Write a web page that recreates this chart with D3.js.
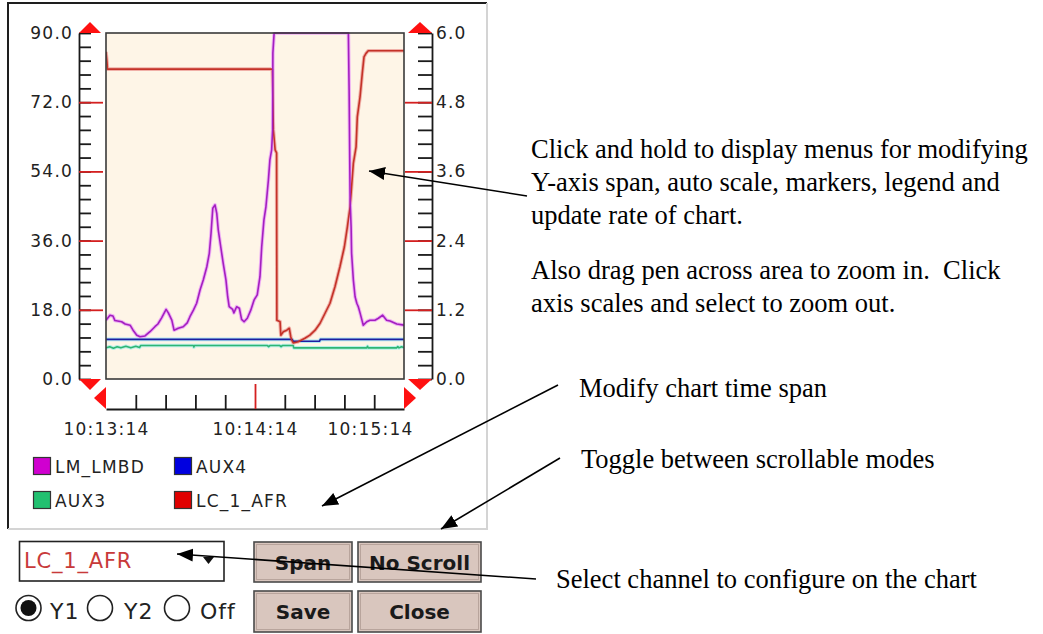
<!DOCTYPE html>
<html><head><meta charset="utf-8">
<script src="https://cdn.jsdelivr.net/npm/d3@7"></script>
<style>
body{margin:0;background:#fff}
svg{display:block}
.ui{font-family:"DejaVu Sans",Verdana,sans-serif}
.note{font-family:"Liberation Serif","Times New Roman",serif;font-size:26.5px;fill:#000;white-space:pre}
</style>
</head><body>
<svg id="c" width="1043" height="634"></svg>
<script>
// ---------- data ----------
const startClock = [10,13,14];
const spanSeconds = 120;
const xTickSeconds = [12,24,36,48,60,72,84,96,108];
const xRedTickSeconds = [60];
const xLabelSeconds = [0,60,120];
const y1Domain = [0,90];
const y2Domain = [0,6];
const y1LabelTicks = [0,18,36,54,72,90];
const y1RedTicks = [18,36,54,72];
const y1MinorTicks = [0,3.6,7.2,10.8,14.4,18,21.6,25.2,28.8,32.4,36,39.6,43.2,46.8,50.4,54,57.6,61.2,64.8,68.4,72,75.6,79.2,82.8,86.4,90];
const y2LabelTicks = [0,1.2,2.4,3.6,4.8,6];
const y2RedTicks = [1.2,2.4,3.6,4.8];
const y2MinorTicks = [0,0.24,0.48,0.72,0.96,1.2,1.44,1.68,1.92,2.16,2.4,2.64,2.88,3.12,3.36,3.6,3.84,4.08,4.32,4.56,4.8,5.04,5.28,5.52,5.76,6];

const seriesNames = ["LM_LMBD","AUX4","AUX3","LC_1_AFR"];

const lmT = [0,1.6,2.8,3.6,6.3,7.7,9.7,10.9,12.4,13.7,15.7,17.7,19.7,20.9,22.4,24.2,25.1,26.5,27.4,29.1,31.1,32.7,33.8,35.2,36.5,37.9,39.2,40.6,41.6,42.3,43.0,43.9,44.6,45.2,46.2,47.2,48.3,49.0,49.6,51.0,51.5,52.6,53.7,54.6,55.6,56.9,58.3,59.6,60.9,62.0,62.7,63.6,64.4,65.4,66.0,66.7,67.1,67.2,67.7,97.6,97.9,98.3,98.7,98.9,99.6,100.3,101.0,101.6,102.3,103.6,105.0,106.3,108.3,109.7,111.4,113.0,114.4,117.1,120];
const lmV = [15.3,16.6,16.4,15.2,14.9,14.3,14.0,12.7,11.4,11.0,11.2,12.3,13.6,14.3,15.9,18.1,17.2,15.3,12.7,13.2,13.6,14.6,16.2,17.9,19.7,23.2,25.8,29.2,32.7,37.9,44.4,45.3,43.1,38.8,34.4,30.1,25.8,21.4,18.8,18.1,17.2,18.8,18.4,15.5,14.9,15.8,17.9,20.5,21.9,26.6,34.4,41.4,44.8,51.8,57.0,59.6,64.8,84.8,90,90,75.2,46.6,39.6,32.7,25.8,21.4,19.7,18.8,17.2,14.0,14.9,15.3,15.3,15.8,16.6,15.3,15.1,14.3,14.0];

const auxT4 = [0,75.0,75.4,86.0,86.3,120];
const auxV4 = [10.3,10.3,9.8,9.8,10.3,10.3];

const auxT3 = [0,1.5,3,4.5,6,8,10,12,13.5,14,35.2,35.4,35.6,65,65.5,66,70,70.5,71,75.4,75.6,105,105.3,105.6,117,117.5,118,119,120];
const auxV3 = [8.1,8.4,8.0,8.4,8.1,8.5,8.1,8.5,8.2,8.7,8.7,8.3,8.7,8.7,8.4,8.7,8.7,8.4,8.7,8.7,8.1,8.1,8.5,8.1,8.1,8.4,8.1,8.4,8.2];

const afrT = [0,0.4,0.6,67.0,67.4,68.1,68.7,68.8,70.1,70.4,71.4,72.8,73.8,74.4,74.8,75.4,77.4,80.1,82.1,84.2,86.2,88.2,90.2,92.2,94.2,96.0,97.2,98.3,98.9,99.6,100.7,101.2,102.3,103.2,103.9,104.7,105.6,120];
const afrV = [85.1,82.5,80.6,80.6,64.8,59.6,58.8,15.3,14.9,11.4,12.3,12.7,13.2,11.0,10.1,9.4,9.7,10.6,11.4,12.7,14.5,17.1,19.7,24.0,29.2,34.4,39.6,44.8,50.0,56.1,60.4,68.2,73.4,79.5,83.8,84.7,85.4,85.4];

const notesTop = ["Click and hold to display menus for modifying","Y-axis span, auto scale, markers, legend and","update rate of chart.","Also drag pen across area to zoom in.  Click","axis scales and select to zoom out."];
const noteSpan = "Modify chart time span";
const noteScroll = "Toggle between scrollable modes";
const noteChannel = "Select channel to configure on the chart";
const buttonLabels = ["Span","No Scroll","Save","Close"];
const radioLabels = ["Y1","Y2","Off"];
const selectedChannel = "LC_1_AFR";

// ---------- setup ----------
const svg = d3.select("#c");
const base = new Date(2000,0,1,startClock[0],startClock[1],startClock[2]);
const toDate = s => new Date(base.getTime()+s*1000);
const fmt = d3.timeFormat("%H:%M:%S");

const x = d3.scaleTime().domain([toDate(0),toDate(spanSeconds)]).range([106,404]);
const y1 = d3.scaleLinear().domain(y1Domain).range([379,33]);
const y2 = d3.scaleLinear().domain(y2Domain).range([379,33]);

// panel
svg.append("rect").attr("x",8).attr("y",3).attr("width",479).attr("height",526).attr("fill","#fff");
svg.append("path").attr("d","M8,529 L8,3 L487,3").attr("fill","none").attr("stroke","#1e1e1e").attr("stroke-width",2);
svg.append("path").attr("d","M8,529 L487,529 L487,3").attr("fill","none").attr("stroke","#d4d4d4").attr("stroke-width",2);

const [px0,px1] = x.range();
const [py0,py1] = [y1.range()[1], y1.range()[0]];

// plot background
svg.append("defs").append("clipPath").attr("id","clip")
  .append("rect").attr("x",px0).attr("y",py0-1).attr("width",px1-px0).attr("height",py1-py0+1);
svg.append("rect").attr("x",px0).attr("y",py0).attr("width",px1-px0).attr("height",py1-py0)
  .attr("fill","#fef5e7");

// series
const lineGen = d3.line().x(d=>x(toDate(d[0]))).y(d=>y1(d[1]));
const zip = (t,v)=>t.map((tt,i)=>[tt,v[i]]);
const seriesDraw = [
  {t:auxT3,v:auxV3,c:"#2fb574",h:"#b8f0e6"},
  {t:auxT4,v:auxV4,c:"#1e1ea0",h:"#b0e8f4"},
  {t:afrT,v:afrV,c:"#c43228",h:"#f0b0a8"},
  {t:lmT,v:lmV,c:"#a41fbf",h:"#eeb0f4"}
];
const gS = svg.append("g").attr("clip-path","url(#clip)");
seriesDraw.forEach(s=>{
  const d = lineGen(zip(s.t,s.v));
  gS.append("path").attr("d",d).attr("fill","none").attr("stroke",s.h).attr("stroke-width",3.6).attr("stroke-linejoin","round");
});
seriesDraw.forEach(s=>{
  const d = lineGen(zip(s.t,s.v));
  gS.append("path").attr("d",d).attr("fill","none").attr("stroke",s.c).attr("stroke-width",1.6).attr("stroke-linejoin","round");
});

// plot border
svg.append("rect").attr("x",px0).attr("y",py0).attr("width",px1-px0).attr("height",py1-py0)
  .attr("fill","none").attr("stroke","#3a3a3a").attr("stroke-width",1.6);

const uiFont = g => g.attr("font-family","DejaVu Sans, Verdana, sans-serif").attr("font-size",17).attr("letter-spacing",1.2).attr("fill","#222");

// left axis
const lx = 79;
const gl = svg.append("g").attr("transform",`translate(${lx},0)`);
gl.call(d3.axisLeft(y1).tickValues(y1MinorTicks).tickSize(-12).tickSizeOuter(0).tickFormat(""));
gl.selectAll("line,path").attr("stroke","#1a1a1a").attr("stroke-width",1.8);
const glr = svg.append("g").attr("transform",`translate(${lx},0)`);
glr.call(d3.axisLeft(y1).tickValues(y1RedTicks).tickSize(-24).tickFormat(""));
glr.select(".domain").remove();
glr.selectAll("line").attr("stroke","#d42020").attr("stroke-width",1.8);
const gll = svg.append("g").attr("transform",`translate(${lx},0)`);
gll.call(d3.axisLeft(y1).tickValues(y1LabelTicks).tickSize(0).tickPadding(6).tickFormat(d3.format(".1f")));
gll.select(".domain").remove();
gll.selectAll("text").call(uiFont);

// right axis
const rx = 432;
const gr = svg.append("g").attr("transform",`translate(${rx},0)`);
gr.call(d3.axisRight(y2).tickValues(y2MinorTicks).tickSize(-14).tickSizeOuter(0).tickFormat(""));
gr.selectAll("line,path").attr("stroke","#1a1a1a").attr("stroke-width",1.8);
const grr = svg.append("g").attr("transform",`translate(${rx},0)`);
grr.call(d3.axisRight(y2).tickValues(y2RedTicks).tickSize(-27).tickFormat(""));
grr.select(".domain").remove();
grr.selectAll("line").attr("stroke","#d42020").attr("stroke-width",1.8);
const grl = svg.append("g").attr("transform",`translate(${rx},0)`);
grl.call(d3.axisRight(y2).tickValues(y2LabelTicks).tickSize(0).tickPadding(4).tickFormat(d3.format(".1f")));
grl.select(".domain").remove();
grl.selectAll("text").call(uiFont);

// x axis
const xy = 409;
const gx = svg.append("g").attr("transform",`translate(0,${xy})`);
gx.call(d3.axisTop(x).tickValues(xTickSeconds.map(toDate)).tickSize(14).tickSizeOuter(0).tickFormat(""));
gx.selectAll("line,path").attr("stroke","#1a1a1a").attr("stroke-width",1.8);
gx.selectAll(".tick").filter(d=>xRedTickSeconds.includes((d-base)/1000)).select("line")
  .attr("stroke","#d42020").attr("y2",-25);
const gxl = svg.append("g").attr("transform",`translate(0,${xy})`);
gxl.call(d3.axisBottom(x).tickValues(xLabelSeconds.map(toDate)).tickSize(0).tickPadding(14).tickFormat(fmt));
gxl.select(".domain").remove();
gxl.selectAll("text").call(uiFont);
gxl.selectAll(".tick").filter((d,i,n)=>i===n.length-1).select("text").attr("text-anchor","end").attr("dx",9);

// red triangles
const red = "#ff1010";
const tri = pts => svg.append("path").attr("d","M"+pts.map(p=>p.join(",")).join("L")+"Z").attr("fill",red);
tri([[lx,py0],[lx+22,py0],[lx+11,py0-11]]);
tri([[lx,py1],[lx+22,py1],[lx+11,py1+11]]);
tri([[rx-24,py0],[rx,py0],[rx-12,py0-11]]);
tri([[rx-24,py1],[rx,py1],[rx-12,py1+11]]);
tri([[px0,xy-22],[px0,xy],[px0-12,xy-11]]);
tri([[px1,xy-22],[px1,xy],[px1+12,xy-11]]);

// legend
const legendColors = ["#d000d0","#0000e0","#22c070","#e00000"];
const legendPos = [[33,457],[174,457],[33,491],[174,491]];
seriesNames.forEach((n,i)=>{
  const [lx0,ly0] = legendPos[i];
  svg.append("rect").attr("x",lx0+0.5).attr("y",ly0+0.5).attr("width",17).attr("height",17)
    .attr("fill",legendColors[i]).attr("stroke","#333").attr("stroke-width",1.2);
  svg.append("text").attr("x",lx0+22).attr("y",ly0+16).text(n).call(uiFont);
});

// dropdown
svg.append("rect").attr("x",19.5).attr("y",541.5).attr("width",204.5).attr("height",39.5)
  .attr("fill","#fff").attr("stroke","#222").attr("stroke-width",1.6);
svg.append("text").attr("x",24).attr("y",568).text(selectedChannel)
  .attr("font-family","DejaVu Sans, Verdana, sans-serif").attr("font-size",21).attr("letter-spacing",0.8).attr("fill","#c83a3a");
svg.append("path").attr("d","M203,557L214,557L208.5,564Z").attr("fill","#111");

// radios
const radioX = [28.5,100,177];
const radioTextX = [50,124,200];
radioLabels.forEach((l,i)=>{
  svg.append("circle").attr("cx",radioX[i]).attr("cy",608).attr("r",12.5).attr("fill","#fff").attr("stroke","#222").attr("stroke-width",1.6);
  if(i===0) svg.append("circle").attr("cx",radioX[i]).attr("cy",608).attr("r",8).attr("fill","#111");
  svg.append("text").attr("x",radioTextX[i]).attr("y",619).text(l)
    .attr("font-family","DejaVu Sans, Verdana, sans-serif").attr("font-size",22).attr("letter-spacing",1).attr("fill","#222");
});

// buttons
const btnBoxes = [[254,542,98,40],[358,542,123,40],[254,591,98,41],[358,591,123,41]];
buttonLabels.forEach((b,i)=>{
  const [bx,by,bw,bh] = btnBoxes[i];
  svg.append("rect").attr("x",bx).attr("y",by).attr("width",bw).attr("height",bh)
    .attr("fill","#d9c6be").attr("stroke","#4a4a4a").attr("stroke-width",1.6);
  svg.append("rect").attr("x",bx+2.5).attr("y",by+2.5).attr("width",bw-5).attr("height",bh-5)
    .attr("fill","none").attr("stroke","#b8a49c").attr("stroke-width",1);
  svg.append("text").attr("x",bx+bw/2).attr("y",by+28).attr("text-anchor","middle").text(b)
    .attr("font-family","DejaVu Sans, Verdana, sans-serif").attr("font-weight","bold").attr("font-size",20).attr("fill","#1a1a1a");
});

// annotation text
const noteBase = [158,191,224,279,312];
notesTop.forEach((t,i)=>{
  svg.append("text").attr("class","note").attr("x",531).attr("y",noteBase[i]).text(t);
});
svg.append("text").attr("class","note").attr("x",579).attr("y",397).text(noteSpan);
svg.append("text").attr("class","note").attr("x",581).attr("y",468).text(noteScroll);
svg.append("text").attr("class","note").attr("x",556).attr("y",588).text(noteChannel);

// arrows
svg.select("defs").append("marker").attr("id","ah").attr("markerUnits","userSpaceOnUse")
  .attr("markerWidth",18).attr("markerHeight",14).attr("refX",16).attr("refY",6.5).attr("orient","auto")
  .append("path").attr("d","M0,0L16,6.5L0,13Z").attr("fill","#000");
const arrows = [[[527,196],[369,171]],[[558,385],[322,506]],[[560,458],[441,529]],[[536,579],[177,554]]];
arrows.forEach(a=>{
  svg.append("line").attr("x1",a[0][0]).attr("y1",a[0][1]).attr("x2",a[1][0]).attr("y2",a[1][1])
    .attr("stroke","#000").attr("stroke-width",1.6).attr("marker-end","url(#ah)");
});
</script>
</body></html>
